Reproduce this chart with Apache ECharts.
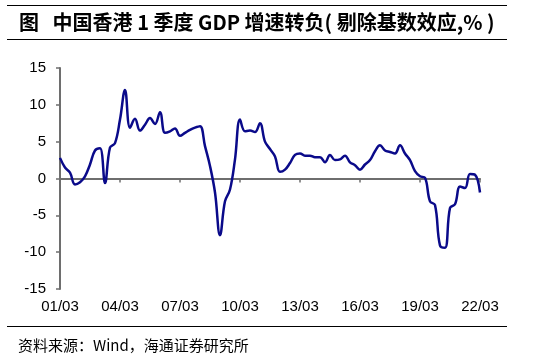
<!DOCTYPE html>
<html>
<head>
<meta charset="utf-8">
<script src="https://cdn.jsdelivr.net/npm/echarts@6/dist/echarts.min.js"></script>
<style>
html,body{margin:0;padding:0;background:#fff;}
#chart{width:533px;height:355px;}
</style>
</head>
<body>
<div id="chart"></div>
<script>
// Quarterly, 2001Q1 .. 2022Q1
var startYear = 2001;
var quarterMonths = ['03', '06', '09', '12'];
var categories = [];
for (var y = startYear; y <= 2022; y++) {
  for (var q = 0; q < 4; q++) {
    if (y === 2022 && q > 0) break;
    categories.push(String(y % 100).padStart(2, '0') + '/' + quarterMonths[q]);
  }
}
var growthValues = [
  2.8, 1.5, 0.8, -0.8, -0.5, 0.3, 1.9, 3.8, 4.1, -0.6,
  4.2, 4.8, 8.0, 12.0, 6.9, 8.1, 6.5, 7.3, 8.2, 7.4,
  9.0, 6.2, 6.4, 6.8, 5.8, 6.2, 6.6, 6.9, 7.1, 4.4,
  1.7, -1.9, -7.7, -3.1, -1.5, 2.6, 8.0, 6.4, 6.5, 6.3,
  7.5, 5.0, 4.0, 3.0, 0.9, 1.2, 2.1, 3.2, 3.4, 3.1,
  3.1, 2.9, 2.9, 2.2, 3.2, 2.5, 2.6, 3.1, 2.2, 1.8,
  1.2, 1.9, 2.5, 3.7, 4.5, 3.8, 3.6, 3.4, 4.5, 3.4,
  2.5, 1.0, 0.3, 0.1, -3.1, -3.6, -9.1, -9.4, -4.0, -3.5,
  -1.1, -1.3, 0.6, 0.5, -1.9
];
var yTicks = { min: -15, max: 15, interval: 5 };
var titleText = '图   中国香港 1 季度 GDP 增速转负( 剔除基数效应,% )';
var sourceText = '资料来源：Wind，海通证券研究所';

var chart = echarts.init(document.getElementById('chart'), null, { renderer: 'canvas' });
var latin = '"Liberation Sans", Arial, sans-serif';
var cjk = '"Noto Sans CJK SC", sans-serif';
chart.setOption({
  animation: false,
  backgroundColor: '#fff',
  grid: { left: 60, right: 53, top: 68, bottom: 66, containLabel: false },
  graphic: [
    { type: 'line', shape: { x1: 7, y1: 5.5, x2: 507, y2: 5.5 }, style: { stroke: '#000', lineWidth: 1 } },
    { type: 'line', shape: { x1: 7, y1: 39.5, x2: 507, y2: 39.5 }, style: { stroke: '#000', lineWidth: 1 } },
    { type: 'text', x: 19, y: 22, style: { text: titleText, font: 'bold 20px ' + cjk, fill: '#000', verticalAlign: 'middle' } },
    { type: 'line', shape: { x1: 7, y1: 326.5, x2: 507, y2: 326.5 }, style: { stroke: '#000', lineWidth: 1 } },
    { type: 'text', x: 18, y: 345, style: { text: sourceText, font: '15px ' + cjk, fill: '#000', verticalAlign: 'middle' } }
  ],
  xAxis: [
    {
      type: 'category', data: categories, boundaryGap: false, position: 'bottom',
      axisLine: { show: true, onZero: true, lineStyle: { color: '#6e6e6e', width: 2 } },
      axisTick: { show: true, interval: 11, length: 4, inside: false, lineStyle: { color: '#6e6e6e', width: 1.5 } },
      axisLabel: { show: false },
      splitLine: { show: false }
    },
    {
      type: 'category', data: categories, boundaryGap: false, position: 'bottom',
      axisLine: { show: false, onZero: false },
      axisTick: { show: false },
      axisLabel: { show: true, interval: 11, margin: 10, color: '#000', fontSize: 15, fontFamily: latin },
      splitLine: { show: false }
    }
  ],
  yAxis: {
    type: 'value', min: yTicks.min, max: yTicks.max, interval: yTicks.interval,
    axisLine: { show: true, lineStyle: { color: '#6e6e6e', width: 2 } },
    axisTick: { show: true, length: 4, lineStyle: { color: '#6e6e6e', width: 1.5 } },
    axisLabel: { color: '#000', fontSize: 15, fontFamily: latin, margin: 14 },
    splitLine: { show: false }
  },
  series: [{
    type: 'line', xAxisIndex: 0, data: growthValues, smooth: 0.4, showSymbol: false,
    lineStyle: { color: '#0a0a8a', width: 2.5 }
  }]
});
</script>
</body>
</html>
